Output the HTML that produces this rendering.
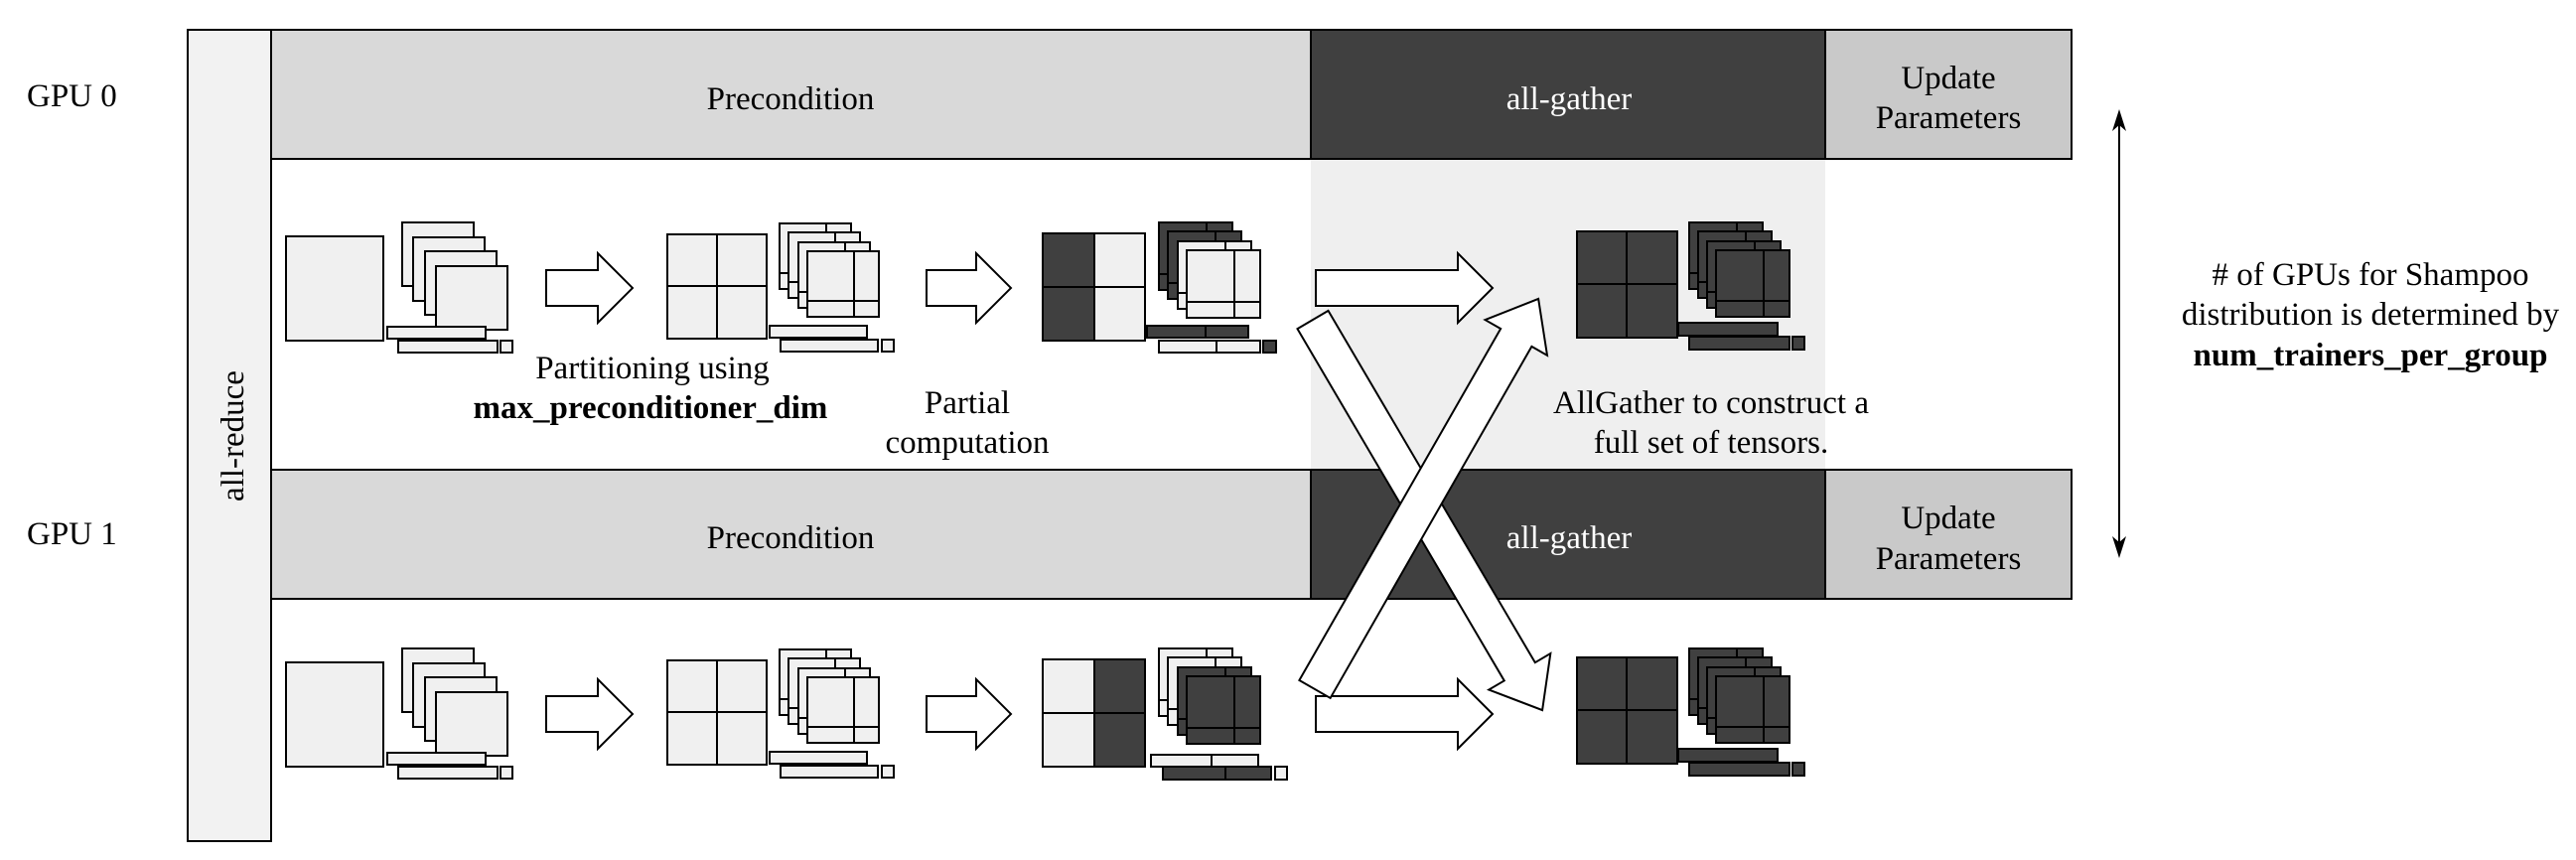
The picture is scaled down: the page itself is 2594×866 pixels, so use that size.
<!DOCTYPE html>
<html><head><meta charset="utf-8"><style>
html,body{margin:0;padding:0;background:#fff;}
svg{display:block;}
svg text{font-family:"Liberation Serif",serif;font-size:33px;fill:#000;}
</style></head><body>
<svg width="2594" height="866" viewBox="0 0 2594 866" xmlns="http://www.w3.org/2000/svg" font-family="Liberation Serif, serif" font-size="33">
<defs>
<g id="g1" stroke="#000" stroke-width="2" fill="#f0f0f0">
 <rect x="288" y="238" width="98" height="105"/>
 <rect x="405" y="224" width="72" height="64"/>
 <rect x="416" y="239" width="72" height="64"/>
 <rect x="428" y="253" width="72" height="64"/>
 <rect x="439" y="268" width="72" height="64"/>
 <rect x="390" y="329" width="99" height="12"/>
 <rect x="401" y="343" width="100" height="12"/>
 <rect x="504" y="343" width="12" height="12"/>
</g>
<g id="sh2"><rect x="0" y="0" width="72" height="66"/><line x1="47" y1="0" x2="47" y2="66"/><line x1="0" y1="50" x2="72" y2="50"/></g>
<g id="g2" stroke="#000" stroke-width="2" fill="#f0f0f0">
 <rect x="672" y="236" width="100" height="105"/>
 <line x1="722" y1="236" x2="722" y2="341"/><line x1="672" y1="288" x2="772" y2="288"/>
 <use href="#sh2" x="785" y="225"/><use href="#sh2" x="794" y="234"/><use href="#sh2" x="804" y="244"/><use href="#sh2" x="813" y="253"/>
 <rect x="775" y="328" width="98" height="12"/>
 <rect x="786" y="342" width="98" height="12"/>
 <rect x="888" y="342" width="12" height="12"/>
</g>
<g id="sh3"><rect x="0" y="0" width="74" height="68"/><line x1="48" y1="0" x2="48" y2="68"/><line x1="0" y1="52" x2="74" y2="52"/></g>
<g id="sh4"><rect x="0" y="0" width="74" height="67"/><line x1="48" y1="0" x2="48" y2="67"/><line x1="0" y1="51" x2="74" y2="51"/></g>
<g id="g4" stroke="#000" stroke-width="2" fill="#404040">
 <rect x="1588" y="233" width="101" height="107"/>
 <line x1="1638" y1="233" x2="1638" y2="340"/><line x1="1588" y1="286" x2="1689" y2="286"/>
 <use href="#sh4" x="1701" y="224"/><use href="#sh4" x="1710" y="233"/><use href="#sh4" x="1719" y="243"/><use href="#sh4" x="1728" y="252"/>
 <rect x="1690" y="325" width="100" height="13"/>
 <rect x="1701" y="339" width="101" height="13"/>
 <rect x="1805" y="339" width="12" height="13"/>
</g>
</defs>

<rect x="1320" y="160" width="518" height="313" fill="#efefef"/>

<rect x="189" y="30" width="84" height="817" fill="#f2f2f2" stroke="#000" stroke-width="2"/>
<text transform="translate(245,439) rotate(-90)" text-anchor="middle">all-reduce</text>

<g stroke="#000" stroke-width="2">
 <rect x="273" y="30" width="1047" height="130" fill="#d9d9d9"/>
 <rect x="1320" y="30" width="518" height="130" fill="#404040"/>
 <rect x="1838" y="30" width="248" height="130" fill="#c9c9c9"/>
 <rect x="273" y="473" width="1047" height="130" fill="#d9d9d9"/>
 <rect x="1320" y="473" width="518" height="130" fill="#404040"/>
 <rect x="1838" y="473" width="248" height="130" fill="#c9c9c9"/>
</g>
<text x="796" y="110" text-anchor="middle">Precondition</text>
<text x="1580" y="110" text-anchor="middle" style="fill:#fff">all-gather</text>
<text x="1962" y="89" text-anchor="middle">Update</text>
<text x="1962" y="129" text-anchor="middle">Parameters</text>
<text x="796" y="552" text-anchor="middle">Precondition</text>
<text x="1580" y="552" text-anchor="middle" style="fill:#fff">all-gather</text>
<text x="1962" y="532" text-anchor="middle">Update</text>
<text x="1962" y="573" text-anchor="middle">Parameters</text>

<text x="27" y="107">GPU 0</text>
<text x="27" y="548">GPU 1</text>

<use href="#g1"/>
<use href="#g2"/>
<g stroke="#000" stroke-width="2">
 <rect x="1050" y="235" width="52" height="108" fill="#404040"/>
 <rect x="1102" y="235" width="51" height="108" fill="#f0f0f0"/>
 <line x1="1050" y1="289" x2="1153" y2="289"/>
 <g fill="#404040"><use href="#sh3" x="1167" y="224"/><use href="#sh3" x="1176" y="233"/></g>
 <g fill="#f0f0f0"><use href="#sh3" x="1186" y="243"/><use href="#sh3" x="1195" y="252"/></g>
 <rect x="1155" y="328" width="102" height="12" fill="#404040"/><line x1="1214" y1="328" x2="1214" y2="340"/>
 <rect x="1167" y="343" width="102" height="12" fill="#f0f0f0"/><line x1="1225" y1="343" x2="1225" y2="355"/>
 <rect x="1272" y="343" width="13" height="12" fill="#404040"/>
</g>
<use href="#g4"/>

<use href="#g1" y="429"/>
<use href="#g2" y="429"/>
<g stroke="#000" stroke-width="2" transform="translate(0,429)">
 <rect x="1050" y="235" width="52" height="108" fill="#f0f0f0"/>
 <rect x="1102" y="235" width="51" height="108" fill="#404040"/>
 <line x1="1050" y1="289" x2="1153" y2="289"/>
 <g fill="#f0f0f0"><use href="#sh3" x="1167" y="224"/><use href="#sh3" x="1176" y="233"/></g>
 <g fill="#404040"><use href="#sh3" x="1186" y="243"/><use href="#sh3" x="1195" y="252"/></g>
 <rect x="1159" y="331" width="108" height="12" fill="#f0f0f0"/><line x1="1220" y1="331" x2="1220" y2="343"/>
 <rect x="1171" y="343" width="109" height="13" fill="#404040"/><line x1="1234" y1="343" x2="1234" y2="356"/>
 <rect x="1284" y="343" width="12" height="13" fill="#f0f0f0"/>
</g>
<use href="#g4" y="429"/>

<g fill="#fff" stroke="#000" stroke-width="2">
 <polygon points="550,272 602,272 602,255 637,290 602,325 602,308 550,308"/>
 <polygon points="933,272 983,272 983,255 1018,290 983,325 983,308 933,308"/>
 <polygon points="1325,272 1468,272 1468,255 1503,290 1468,325 1468,308 1325,308"/>
 <g transform="translate(0,429)">
 <polygon points="550,272 602,272 602,255 637,290 602,325 602,308 550,308"/>
 <polygon points="933,272 983,272 983,255 1018,290 983,325 983,308 933,308"/>
 <polygon points="1325,272 1468,272 1468,255 1503,290 1468,325 1468,308 1325,308"/>
 </g>
 <polygon transform="translate(1322,322) rotate(59.55)" points="0,-18 411,-18 411,-36 456,0 411,36 411,18 0,18"/>
 <polygon transform="translate(1324,694) rotate(-60.2)" points="0,-18 408,-18 408,-36 453,0 408,36 408,18 0,18"/>
</g>

<text x="657" y="381" text-anchor="middle">Partitioning using</text>
<text x="655" y="421" text-anchor="middle" style="font-weight:bold">max_preconditioner_dim</text>
<text x="974" y="416" text-anchor="middle">Partial</text>
<text x="974" y="456" text-anchor="middle">computation</text>
<text x="1723" y="416" text-anchor="middle">AllGather to construct a</text>
<text x="1723" y="456" text-anchor="middle">full set of tensors.</text>

<line x1="2134" y1="116" x2="2134" y2="556" stroke="#000" stroke-width="2"/>
<polygon points="2134,110 2127,132 2134,126 2141,132" fill="#000"/>
<polygon points="2134,562 2127,540 2134,546 2141,540" fill="#000"/>

<text x="2387" y="287" text-anchor="middle"># of GPUs for Shampoo</text>
<text x="2387" y="327" text-anchor="middle">distribution is determined by</text>
<text x="2387" y="368" text-anchor="middle" style="font-weight:bold">num_trainers_per_group</text>
</svg>
</body></html>
